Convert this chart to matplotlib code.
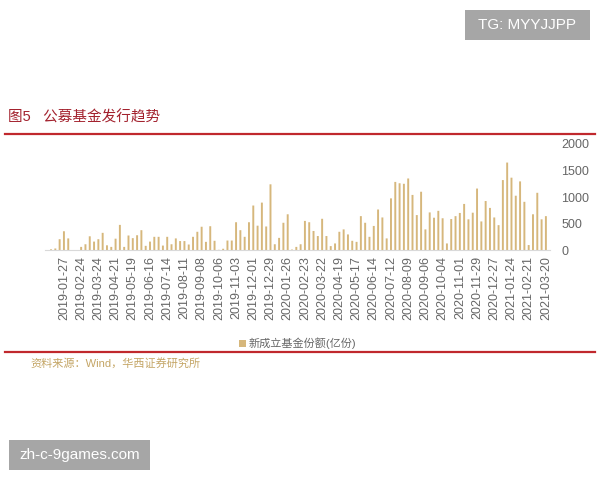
import matplotlib
matplotlib.use("Agg")
import matplotlib.pyplot as plt
from matplotlib.patches import Rectangle
from matplotlib.lines import Line2D
import numpy as np
import pandas as pd

plt.rcParams['font.family'] = ['Liberation Sans', 'Noto Sans CJK SC', 'DejaVu Sans']

# weekly new fund shares (100 million units)
dates = [d.strftime('%Y-%m-%d') for d in pd.date_range('2019-01-06', periods=115, freq='7D')]
dates.append('2021-03-20')

shares = [15, 30, 205, 355, 220, 0, 0, 60, 110, 260,
          160, 205, 325, 90, 60, 215, 475, 60, 275, 225,
          280, 375, 80, 160, 250, 250, 85, 250, 110, 220,
          170, 170, 105, 250, 345, 440, 155, 450, 175, 5,
          25, 180, 180, 525, 375, 250, 525, 840, 460, 895,
          445, 1240, 110, 230, 515, 675, 10, 60, 110, 550,
          525, 360, 265, 590, 265, 75, 125, 345, 390, 295,
          175, 155, 640, 515, 250, 455, 765, 615, 220, 975,
          1285, 1260, 1250, 1350, 1040, 660, 1100, 390, 710, 610,
          740, 600, 125, 585, 640, 700, 870, 580, 705, 1160,
          540, 925, 795, 615, 470, 1320, 1650, 1365, 1025, 1295,
          910, 95, 675, 1080, 580, 640]

yticks = [0, 500, 1000, 1500, 2000]

title = '图5   公募基金发行趋势'
legend_label = '新成立基金份额(亿份)'
source = '资料来源：Wind，华西证券研究所'

bar_color = '#d6b77c'
red = '#c0282d'
grey = '#666666'

fig = plt.figure(figsize=(6, 4.8), dpi=100)
ax = fig.add_axes([0.075, 0.479, 0.842, 0.221])

x = np.arange(len(shares))
ax.bar(x, shares, width=0.45, color=bar_color, label=legend_label, snap=False)

ax.set_xlim(-1.4, 116)
ax.set_ylim(0, 2000)
ax.set_yticks(yticks)
ax.yaxis.tick_right()
ax.tick_params(axis='y', length=0, pad=8, labelsize=9, labelcolor=grey)

tick_pos = x[3::4]
ax.set_xticks(tick_pos)
ax.set_xticklabels([dates[i] for i in tick_pos], rotation=90, fontsize=9, color=grey)
ax.tick_params(axis='x', length=0, pad=4)

for s in ['top', 'left', 'right']:
    ax.spines[s].set_visible(False)
ax.spines['bottom'].set_color('#d9d9d9')
ax.spines['bottom'].set_linewidth(0.8)

ax.legend(loc='upper center', bbox_to_anchor=(0.5, -0.73), frameon=False,
          fontsize=8, labelcolor=grey, handlelength=0.6, handleheight=0.6,
          handletextpad=0.2)

# title and red rules
fig.text(0.013, 1 - 117 / 480, title, color='#a3222e', fontsize=10.5,
         va='center', ha='left')
fig.add_artist(Line2D([5 / 600, 595 / 600], [1 - 134 / 480] * 2, color=red, lw=1.6))
fig.add_artist(Line2D([5 / 600, 595 / 600], [1 - 352 / 480] * 2, color=red, lw=1.6))

fig.text(30 / 600, 1 - 363 / 480, source, color='#c4a565', fontsize=8,
         va='center', ha='left')

# watermark boxes
fig.add_artist(Rectangle((465 / 600, 1 - 40 / 480), 125 / 600, 30 / 480,
                         transform=fig.transFigure, color='#a6a6a6', lw=0))
fig.text(527.5 / 600, 1 - 25 / 480, 'TG: MYYJJPP', color='white', fontsize=11,
         ha='center', va='center')
fig.add_artist(Rectangle((9 / 600, 1 - 470 / 480), 141 / 600, 30 / 480,
                         transform=fig.transFigure, color='#a6a6a6', lw=0))
fig.text(79.5 / 600, 1 - 455 / 480, 'zh-c-9games.com', color='white', fontsize=11,
         ha='center', va='center')

fig.savefig('out.png', dpi=100, facecolor='white')
